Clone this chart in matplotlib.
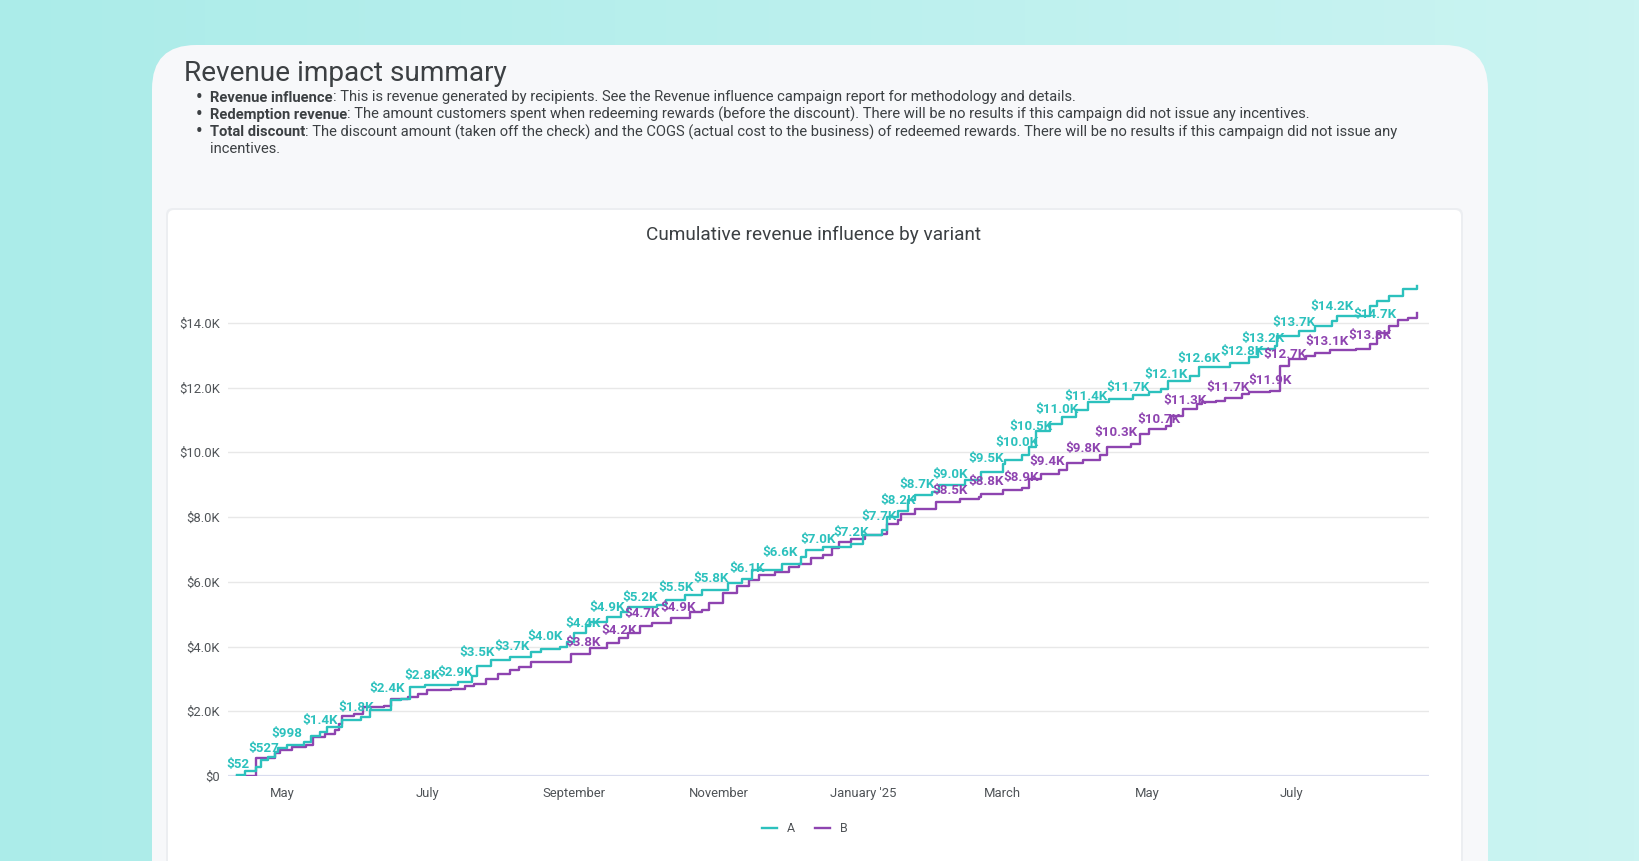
import numpy as np
import pandas as pd
import matplotlib
matplotlib.use('Agg')
import matplotlib.pyplot as plt
import matplotlib.dates as mdates
from matplotlib.patches import FancyBboxPatch

plt.rcParams['font.family'] = ['Roboto', 'DejaVu Sans']

# Cumulative revenue influence (values in $)
a_dates = ['2024-04-12', '2024-04-15', '2024-04-19', '2024-04-20', '2024-04-22', '2024-04-25',
           '2024-04-28', '2024-04-29', '2024-05-03', '2024-05-10', '2024-05-13', '2024-05-17',
           '2024-05-20', '2024-05-26', '2024-05-31', '2024-06-03', '2024-06-07', '2024-06-13',
           '2024-06-16', '2024-06-20', '2024-06-24', '2024-06-30', '2024-07-12', '2024-07-14',
           '2024-07-20', '2024-07-22', '2024-07-28', '2024-08-05', '2024-08-14', '2024-08-18',
           '2024-08-26', '2024-08-29', '2024-09-01', '2024-09-06', '2024-09-08', '2024-09-15',
           '2024-09-21', '2024-09-24', '2024-10-06', '2024-10-10', '2024-10-18', '2024-10-25',
           '2024-11-05', '2024-11-11', '2024-11-15', '2024-11-25', '2024-11-28', '2024-12-06',
           '2024-12-08', '2024-12-15', '2024-12-27', '2024-12-31', '2025-01-01', '2025-01-09',
           '2025-01-11', '2025-01-16', '2025-01-20', '2025-01-23', '2025-01-30', '2025-02-02',
           '2025-02-13', '2025-02-20', '2025-03-01', '2025-03-02', '2025-03-09', '2025-03-12',
           '2025-03-15', '2025-03-21', '2025-03-26', '2025-04-01', '2025-04-06', '2025-04-15',
           '2025-04-25', '2025-05-02', '2025-05-07', '2025-05-10', '2025-05-19', '2025-05-23',
           '2025-06-05', '2025-06-13', '2025-06-17', '2025-06-24', '2025-06-25', '2025-07-04',
           '2025-07-11', '2025-07-18', '2025-07-20', '2025-07-31', '2025-08-03', '2025-08-06',
           '2025-08-11', '2025-08-17', '2025-08-23']
a_values = [30, 150, 150, 290, 490, 600, 750, 850, 970, 1060, 1230, 1360,
            1520, 1720, 1720, 1830, 2030, 2050, 2340, 2390, 2750, 2820, 2820, 2900,
            3100, 3400, 3570, 3670, 3830, 3930, 4000, 4150, 4410, 4620, 4770, 4920,
            5080, 5230, 5280, 5440, 5590, 5740, 5950, 6100, 6360, 6360, 6560, 6770,
            6970, 7060, 7180, 7180, 7430, 7590, 8000, 8200, 8510, 8670, 8770, 8980,
            9130, 9390, 9650, 9750, 9900, 10160, 10670, 10880, 11090, 11290, 11550, 11650,
            11760, 11860, 11950, 12200, 12360, 12620, 12770, 12950, 13180, 13280, 13590, 13740,
            13900, 14050, 14200, 14200, 14510, 14670, 14820, 15030, 15150]

b_dates = ['2024-04-12', '2024-04-19', '2024-04-20', '2024-04-25', '2024-04-28', '2024-04-30',
           '2024-05-05', '2024-05-11', '2024-05-14', '2024-05-19', '2024-05-23', '2024-05-25',
           '2024-05-26', '2024-05-31', '2024-06-04', '2024-06-13', '2024-06-16', '2024-06-23',
           '2024-06-27', '2024-07-01', '2024-07-11', '2024-07-17', '2024-07-21', '2024-07-26',
           '2024-07-31', '2024-08-05', '2024-08-09', '2024-08-14', '2024-08-19', '2024-08-31',
           '2024-09-08', '2024-09-15', '2024-09-20', '2024-09-24', '2024-09-29', '2024-10-04',
           '2024-10-12', '2024-10-20', '2024-10-25', '2024-10-28', '2024-11-03', '2024-11-09',
           '2024-11-14', '2024-11-18', '2024-11-25', '2024-12-01', '2024-12-05', '2024-12-10',
           '2024-12-15', '2024-12-19', '2024-12-22', '2024-12-27', '2025-01-02', '2025-01-09',
           '2025-01-11', '2025-01-16', '2025-01-17', '2025-01-23', '2025-02-01', '2025-02-11',
           '2025-02-19', '2025-02-20', '2025-03-01', '2025-03-09', '2025-03-12', '2025-03-17',
           '2025-03-25', '2025-03-28', '2025-04-04', '2025-04-11', '2025-04-14', '2025-04-24',
           '2025-04-28', '2025-05-02', '2025-05-09', '2025-05-11', '2025-05-16', '2025-05-22',
           '2025-05-24', '2025-05-30', '2025-06-03', '2025-06-10', '2025-06-13', '2025-06-22',
           '2025-06-26', '2025-06-30', '2025-07-07', '2025-07-11', '2025-07-17', '2025-07-28',
           '2025-08-03', '2025-08-06', '2025-08-11', '2025-08-15', '2025-08-19', '2025-08-23']
b_values = [0, 0, 570, 570, 700, 800, 900, 950, 1200, 1310, 1410, 1620,
            1860, 1900, 2130, 2150, 2390, 2440, 2540, 2650, 2700, 2770, 2850, 3000,
            3160, 3260, 3380, 3520, 3520, 3770, 3950, 4100, 4260, 4410, 4620, 4720,
            4870, 5080, 5130, 5330, 5640, 5870, 6050, 6210, 6310, 6460, 6560, 6720,
            6820, 7030, 7230, 7330, 7430, 7490, 7790, 7900, 8100, 8260, 8460, 8570,
            8620, 8720, 8840, 8900, 9180, 9340, 9440, 9670, 9770, 9930, 10160, 10260,
            10570, 10720, 10820, 11130, 11330, 11490, 11540, 11590, 11690, 11790, 11870, 11900,
            12670, 12890, 12970, 13060, 13160, 13180, 13330, 13690, 13900, 14100, 14150, 14310]

# data labels that are visible on the chart
a_label_dates = ['2024-04-12', '2024-04-23', '2024-05-03', '2024-05-17', '2024-06-01', '2024-06-14',
                 '2024-06-29', '2024-07-13', '2024-07-22', '2024-08-06', '2024-08-20', '2024-09-05',
                 '2024-09-15', '2024-09-29', '2024-10-14', '2024-10-29', '2024-11-13', '2024-11-27',
                 '2024-12-13', '2024-12-27', '2025-01-08', '2025-01-16', '2025-01-24', '2025-02-07',
                 '2025-02-22', '2025-03-07', '2025-03-13', '2025-03-24', '2025-04-05', '2025-04-23',
                 '2025-05-09', '2025-05-23', '2025-06-10', '2025-06-19', '2025-07-02', '2025-07-18',
                 '2025-08-05']
a_label_values = [52, 527, 998, 1400, 1800, 2400, 2800, 2900, 3500, 3700, 4000, 4400,
                  4900, 5200, 5500, 5800, 6100, 6600, 7000, 7200, 7700, 8200, 8700, 9000,
                  9500, 10000, 10500, 11000, 11400, 11700, 12100, 12600, 12800, 13200, 13700, 14200,
                  14700]
b_label_dates = ['2024-09-05', '2024-09-20', '2024-09-30', '2024-10-15', '2025-02-07', '2025-02-22',
                 '2025-03-09', '2025-03-20', '2025-04-04', '2025-04-18', '2025-05-06', '2025-05-17',
                 '2025-06-04', '2025-06-22', '2025-06-28', '2025-07-16', '2025-08-03']
b_label_values = [3800, 4200, 4700, 4900, 8500, 8800, 8900, 9400, 9800, 10300, 10700, 11300,
                  11700, 11900, 12700, 13100, 13300]

month_ticks = ['2024-05-01', '2024-07-01', '2024-09-01', '2024-11-01', '2025-01-01',
               '2025-03-01', '2025-05-01', '2025-07-01']
month_labels = ['May', 'July', 'September', 'November', "January '25", 'March', 'May', 'July']

bullets = [
    ('Revenue influence', ': This is revenue generated by recipients. See the Revenue influence '
                          'campaign report for methodology and details.'),
    ('Redemption revenue', ': The amount customers spent when redeeming rewards (before the '
                           'discount). There will be no results if this campaign did not issue any incentives.'),
    ('Total discount', ': The discount amount (taken off the check) and the COGS (actual cost to '
                       'the business) of redeemed rewards. There will be no results if this campaign did not issue any'),
]

TEAL = '#2cc1bd'
PURPLE = '#8e44b0'
TEXT = '#3c4043'

W, H = 1640, 861
fig = plt.figure(figsize=(W / 100, H / 100), dpi=100)

# background in pixel units
bg = fig.add_axes([0, 0, 1, 1])
bg.set_xlim(0, W)
bg.set_ylim(H, 0)
bg.axis('off')
grad = np.linspace(0, 1, 256).reshape(1, -1)
cmap = matplotlib.colors.LinearSegmentedColormap.from_list('bgc', ['#abece9', '#cbf4f2'])
bg.imshow(grad, extent=[0, W, H, 0], aspect='auto', cmap=cmap, zorder=0)

bg.add_patch(FancyBboxPatch((152, 45), 1336, 900, boxstyle='round,pad=0,rounding_size=44',
                            fc='#f7f8fa', ec='none', zorder=1))
bg.add_patch(FancyBboxPatch((166, 208), 1297, 702, boxstyle='round,pad=0,rounding_size=7',
                            fc='#eceef1', ec='none', zorder=2))
bg.add_patch(FancyBboxPatch((168, 210), 1293, 700, boxstyle='round,pad=0,rounding_size=6',
                            fc='white', ec='none', zorder=3))

bg.text(184, 81, 'Revenue impact summary', fontsize=20.2, color=TEXT, va='baseline', zorder=4)

renderer = fig.canvas.get_renderer()
baselines = [101.5, 119, 136.5]
for (bold, rest), yb in zip(bullets, baselines):
    bg.text(199, yb - 4, '\u2022', fontsize=13, fontweight='bold', color=TEXT,
            ha='center', va='center', zorder=4)
    t = bg.text(210, yb, bold, fontsize=10.65, fontweight='bold', color=TEXT, va='baseline', zorder=4)
    bb = t.get_window_extent(renderer=renderer)
    bg.text(bb.x1, yb, rest, fontsize=10.65, color=TEXT, va='baseline', zorder=4)
bg.text(210, 153, 'incentives.', fontsize=10.65, color=TEXT, va='baseline', zorder=4)

bg.text(814, 235, 'Cumulative revenue influence by variant', fontsize=13.7, color=TEXT,
        ha='center', va='center', zorder=4)

# chart
ax = fig.add_axes([228 / W, 1 - 776 / H, 1201 / W, (776 - 258) / H], zorder=5)
ax.patch.set_alpha(0)

a_x = pd.to_datetime(a_dates)
b_x = pd.to_datetime(b_dates)
ax.plot(a_x, a_values, color=TEAL, lw=1.7, drawstyle='steps-post', label='A', zorder=4)
ax.plot(b_x, b_values, color=PURPLE, lw=1.7, drawstyle='steps-post', label='B', zorder=3)


def fmt(v):
    return f'${v:,.0f}' if v < 1000 else f'${v / 1000:.1f}K'


for d, v in zip(pd.to_datetime(b_label_dates), b_label_values):
    ax.annotate(fmt(v), (d, v), xytext=(0, 10), textcoords='offset pixels', ha='center',
                va='center', fontsize=9.6, fontweight='bold', color=PURPLE, zorder=6)
for d, v in zip(pd.to_datetime(a_label_dates), a_label_values):
    # the last label is pushed under its point in the original chart
    off = -14 if v == a_label_values[-1] else 10
    ax.annotate(fmt(v), (d, v), xytext=(0, off), textcoords='offset pixels', ha='center',
                va='center', fontsize=9.6, fontweight='bold', color=TEAL, zorder=7)

ax.set_xlim(pd.Timestamp('2024-04-08'), pd.Timestamp('2025-08-28'))
ax.set_ylim(0, 16000)
ax.set_yticks(range(0, 14001, 2000))
ax.set_yticklabels(['$0'] + [f'${v / 1000:.1f}K' for v in range(2000, 14001, 2000)])
ax.set_xticks(mdates.date2num(pd.to_datetime(month_ticks)))
ax.set_xticklabels(month_labels)
ax.tick_params(length=0, labelsize=9.4, labelcolor='#4f5357')
ax.tick_params(axis='y', pad=6)
ax.tick_params(axis='x', pad=8)
ax.yaxis.grid(True, color='#e8e8e8', lw=1)
ax.set_axisbelow(True)
ax.axhline(0, color='#d9dcee', lw=1.6, zorder=1)
for s in ax.spines.values():
    s.set_visible(False)

ax.legend(loc='center', bbox_to_anchor=(805 / W, 1 - 829 / H), bbox_transform=fig.transFigure,
          ncol=2, frameon=False, fontsize=9, handlelength=1.2, handletextpad=0.8,
          columnspacing=1.6, labelcolor='#4f5357')

fig.savefig('out.png', dpi=100)
